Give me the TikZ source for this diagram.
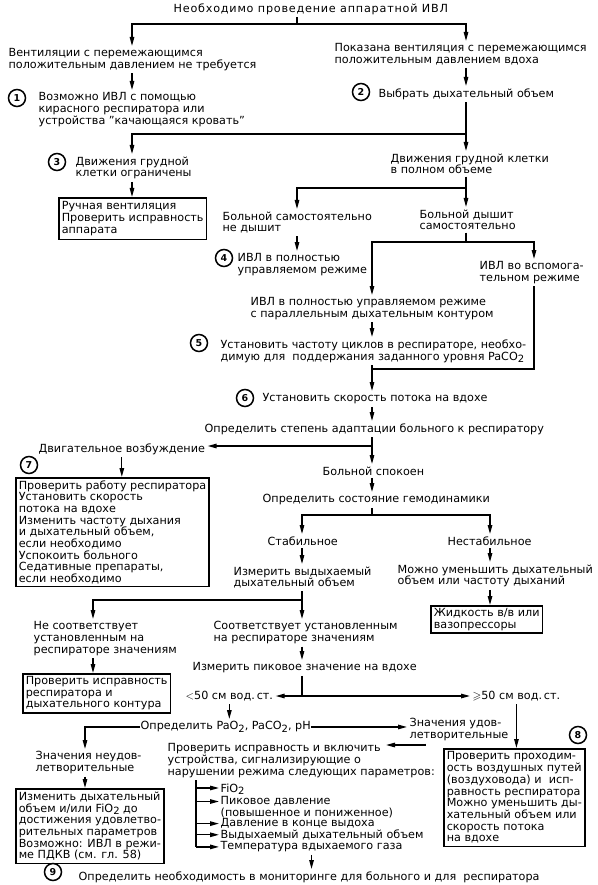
\documentclass[tikz,border=0pt]{standalone}
\usepackage{amsmath,amssymb}
\usepackage{fontspec}
\setmainfont{DejaVu Sans}
\usetikzlibrary{arrows.meta}
\newcommand{\fs}{\fontsize{11.2}{11.7}\selectfont}
\newcommand{\dn}[1]{\raisebox{-.4ex}[0pt][0pt]{\fontsize{10}{10}\selectfont #1}}

\begin{document}
\begin{tikzpicture}[x=1pt,y=-1pt,line width=1.3pt,
    >={Triangle[length=9pt,width=4.5pt]},
    txt/.style={anchor=north west,inner xsep=0pt,inner ysep=2pt,align=left,font=\fs},
    box/.style={draw,line width=1.6pt,anchor=north west,inner xsep=3pt,inner ysep=4pt,align=left,font=\fs},
    num/.style={circle,draw,line width=1.5pt,minimum size=17pt,inner sep=0pt,font=\bfseries\fontsize{9.5}{9.5}\selectfont}]
    \useasboundingbox (0,0) rectangle (597,885);

    % nodes
    \node[txt] (top) at (173,1) {\addfontfeature{LetterSpace=7}Необходимо проведение аппаратной ИВЛ};
    \node[txt] (n1a) at (8,46) {Вентиляции с перемежающимся\\положительным давлением не требуется};
    \node[num] (c1) at (17,98) {1};
    \node[txt] (n1) at (38,90) {Возможно ИВЛ с помощью\\кирасного респиратора или\\устройства "качающаяся кровать"};
    \node[txt] (n2a) at (334,41) {Показана вентиляция с перемежающимся\\положительным давлением вдоха};
    \node[num] (c2) at (361,92) {2};
    \node[txt] (n2) at (378,86) {Выбрать дыхательный объем};
    \node[num] (c3) at (57,162) {3};
    \node[txt] (n3) at (75,154) {Движения грудной\\клетки ограничены};
    \node[box] (b3) at (58,197) {Ручная вентиляция\\Проверить исправность\\аппарата};
    \node[txt] (nfull) at (390,151) {Движения грудной клетки\\в полном объеме};
    \node[txt] (nnot) at (222,209) {Больной самостоятельно\\не дышит};
    \node[txt] (nbr) at (419,207) {Больной дышит\\самостоятельно};
    \node[num] (c4) at (224,258) {4};
    \node[txt] (n4) at (237,251) {ИВЛ в полностью\\управляемом режиме};
    \node[txt] (nasst) at (479,259) {ИВЛ во вспомога-\\тельном режиме};
    \node[txt] (npar) at (250,295) {ИВЛ в полностью управляемом режиме\\с параллельным дыхательным контуром};
    \node[num] (c5) at (199,343) {5};
    \node[txt] (n5) at (220,337) {Установить частоту циклов в респираторе, необхо-\\димую для\ \ поддержания заданного уровня PaCO\dn{2}};
    \node[num] (c6) at (245,398) {6};
    \node[txt] (n6) at (262,391) {Установить скорость потока на вдохе};
    \node[txt] (nadapt) at (204,421) {Определить степень адаптации больного к респиратору};
    \node[txt] (nagit) at (38,441) {Двигательное возбуждение};
    \node[num] (c7) at (29,465) {7};
    \node[box,inner ysep=2.5pt] (b7) at (15,477) {Проверить работу респиратора\\Установить скорость\\потока на вдохе\\Изменить частоту дыхания\\и дыхательный объем,\\если необходимо\\Успокоить больного\\Седативные препараты,\\если необходимо};
    \node[txt] (ncalm) at (322,464) {Больной спокоен};
    \node[txt] (nhemo) at (262,492) {Определить состояние гемодинамики};
    \node[txt] (nstab) at (267,534) {Стабильное};
    \node[txt] (nunst) at (447,534) {Нестабильное};
    \node[txt] (nmeas) at (233,564) {Измерить выдыхаемый\\дыхательный объем};
    \node[txt] (nredu) at (397,562) {Можно уменьшить дыхательный\\объем или частоту дыханий};
    \node[box,inner ysep=2.5pt] (bfluid) at (430,605) {Жидкость в/в или\\вазопрессоры};
    \node[txt] (nnocor) at (33,619) {Не соответствует\\установленным на\\респираторе значениям};
    \node[txt] (ncor) at (213,619) {Соответствует установленным\\на респираторе значениям};
    \node[box,inner ysep=2.5pt] (bcheck) at (22,673) {Проверить исправность\\респиратора и\\дыхательного контура};
    \node[txt] (npeak) at (192,660) {Измерить пиковое значение на вдохе};
    \node[txt] (nlow) at (185,689) {$<$50 см вод.\,ст.};
    \node[txt] (nhigh) at (472,689) {$\geqslant$50 см вод.\,ст.};
    \node[txt] (nblood) at (140,719) {Определить PaO\dn{2}, PaCO\dn{2}, pH};
    \node[txt] (nsat) at (409,716) {Значения удов-\\летворительные};
    \node[txt] (nunsat) at (35,749) {Значения неудов-\\летворительные};
    \node[box,inner ysep=3pt] (bchange) at (15,788) {Изменить дыхательный\\объем и/или FiO\dn{2} до\\достижения удовлетво-\\рительных параметров\\Возможно: ИВЛ в режи-\\ме ПДКВ (см. гл. 58)};
    \node[txt] (nalarm) at (167,741) {Проверить исправность и включить\\устройства, сигнализирующие о\\нарушении режима следующих параметров:};
    \node[txt] (ffio) at (220,781) {FiO\dn{2}};
    \node[txt] (fpeak) at (220,794) {Пиковое давление};
    \node[txt] (fpeak2) at (220,805) {(повышенное и пониженное)};
    \node[txt] (fpeep) at (220,816) {Давление в конце выдоха};
    \node[txt] (fvol) at (220,827) {Выдыхаемый дыхательный объем};
    \node[txt] (ftemp) at (220,839) {Температура вдыхаемого газа};
    \node[num] (c8) at (578,735) {8};
    \node[box,inner ysep=3pt] (b8) at (443,748) {Проверить проходим-\\ость воздушных путей\\(воздуховода) и\ \ исп-\\равность респиратора\\Можно уменьшить ды-\\хательный объем или\\скорость потока\\на вдохе};
    \node[num] (c9) at (53,872) {9};
    \node[txt] (n9) at (78,869) {Определить необходимость в мониторинге для больного и для\ \ респиратора};

    % junctions
    \coordinate (j1) at (297,24);
    \coordinate (j1l) at (132,24);
    \coordinate (j1r) at (466,24);
    \coordinate (j2) at (466,134);
    \coordinate (j2l) at (132,134);
    \coordinate (j3) at (466,188);
    \coordinate (j3l) at (297,188);
    \coordinate (j4) at (466,242);
    \coordinate (j4l) at (372,242);
    \coordinate (j4r) at (534,242);
    \coordinate (j5) at (372,369);
    \coordinate (j6) at (372,446);
    \coordinate (j8) at (372,515);
    \coordinate (j8l) at (302,515);
    \coordinate (j8r) at (490,515);
    \coordinate (j9) at (302,600);
    \coordinate (j9l) at (93,600);
    \coordinate (j10) at (302,696);
    \coordinate (j12) at (85,724);
    \coordinate (j13) at (425,745);
    \coordinate (j13l) at (386,745);
    \coordinate (l0) at (196,779);

    % connectors
    \draw (top.south -| j1) -- (j1);
    \draw [->] (j1) -- (j1l) -- (j1l |- n1a.north);
    \draw [->] (j1) -- (j1r) -- (j1r |- n2a.north);
    \draw [->] (n1a.south -| j1l) -- (n1.north -| j1l);
    \draw [->] (n2a.south -| j1r) -- (n2.north -| j1r);
    \draw (n2.south -| j2) -- (j2);
    \draw [->] (j2) -- (nfull.north -| j2);
    \draw [->] (j2) -- (j2l) -- (j2l |- n3.north);
    \draw [->] (n3.south -| j2l) -- (b3.north -| j2l);
    \draw (nfull.south -| j3) -- (j3);
    \draw [->] (j3) -- (nbr.north -| j3);
    \draw [->] (j3) -- (j3l) -- (j3l |- nnot.north);
    \draw [->] (nnot.south -| j3l) -- (n4.north -| j3l);
    \draw (nbr.south -| j4) -- (j4);
    \draw [->] (j4) -- (j4l) -- (j4l |- npar.north);
    \draw [->] (j4) -- (j4r) -- (j4r |- nasst.north);
    \draw [->] (npar.south -| j4l) -- (n5.north -| j4l);
    \draw [->] (n5.south -| j5) -- (n6.north -| j5);
    \draw (nasst.south -| j4r) |- (j5);
    \draw [->] (n6.south -| j5) -- (nadapt.north -| j5);
    \draw (nadapt.south -| j6) -- (j6);
    \draw [->,shorten >=2pt] (j6) -- (nagit.east |- j6);
    \draw [->] (j6) -- (ncalm.north -| j6);
    \draw [->] (nagit.south) -- (nagit.south |- b7.north);
    \draw [->] (ncalm.south -| j6) -- (nhemo.north -| j6);
    \draw (nhemo.south -| j8) -- (j8);
    \draw [->] (j8) -- (j8l) -- (j8l |- nstab.north);
    \draw [->] (j8) -- (j8r) -- (j8r |- nunst.north);
    \draw [->] (nstab.south -| j8l) -- (nmeas.north -| j8l);
    \draw [->] (nunst.south -| j8r) -- (nredu.north -| j8r);
    \draw [->] (nredu.south -| j8r) -- (bfluid.north -| j8r);
    \draw [->] (nmeas.south -| j9) -- (ncor.north -| j9);
    \draw [->] (j9) -- (j9l) -- (j9l |- nnocor.north);
    \draw [->] (nnocor.south -| j9l) -- (bcheck.north -| j9l);
    \draw [->] (ncor.south -| j9) -- (npeak.north -| j9);
    \draw (npeak.south -| j10) -- (j10);
    \draw [->,shorten >=2pt] (j10) -- (nlow.east |- j10);
    \draw [->,shorten >=2pt] (j10) -- (nhigh.west |- j10);
    \draw [->] (nlow.south) -- (nlow.south |- nblood.north);
    \draw [->] (nblood.west) -| (j12 |- nunsat.north);
    \draw [->,shorten >=2pt] (nblood.east) -- (nsat.west |- nblood.east);
    \draw [->] (nsat.south -| j13) |- (j13l);
    \draw [->] (nhigh.south) -- (nhigh.south |- b8.north);
    \draw [->] (nunsat.south -| j12) -- (bchange.north -| j12);
    \draw (nalarm.south -| l0) -- (l0 |- ftemp.west);
    \foreach \f in {ffio,fpeak,fpeep,fvol,ftemp}
      \draw [->,shorten >=1pt] (l0 |- \f.west) -- (\f.west);
    \draw [->] (ftemp.south) -- (ftemp.south |- n9.north);
\end{tikzpicture}
\end{document}
